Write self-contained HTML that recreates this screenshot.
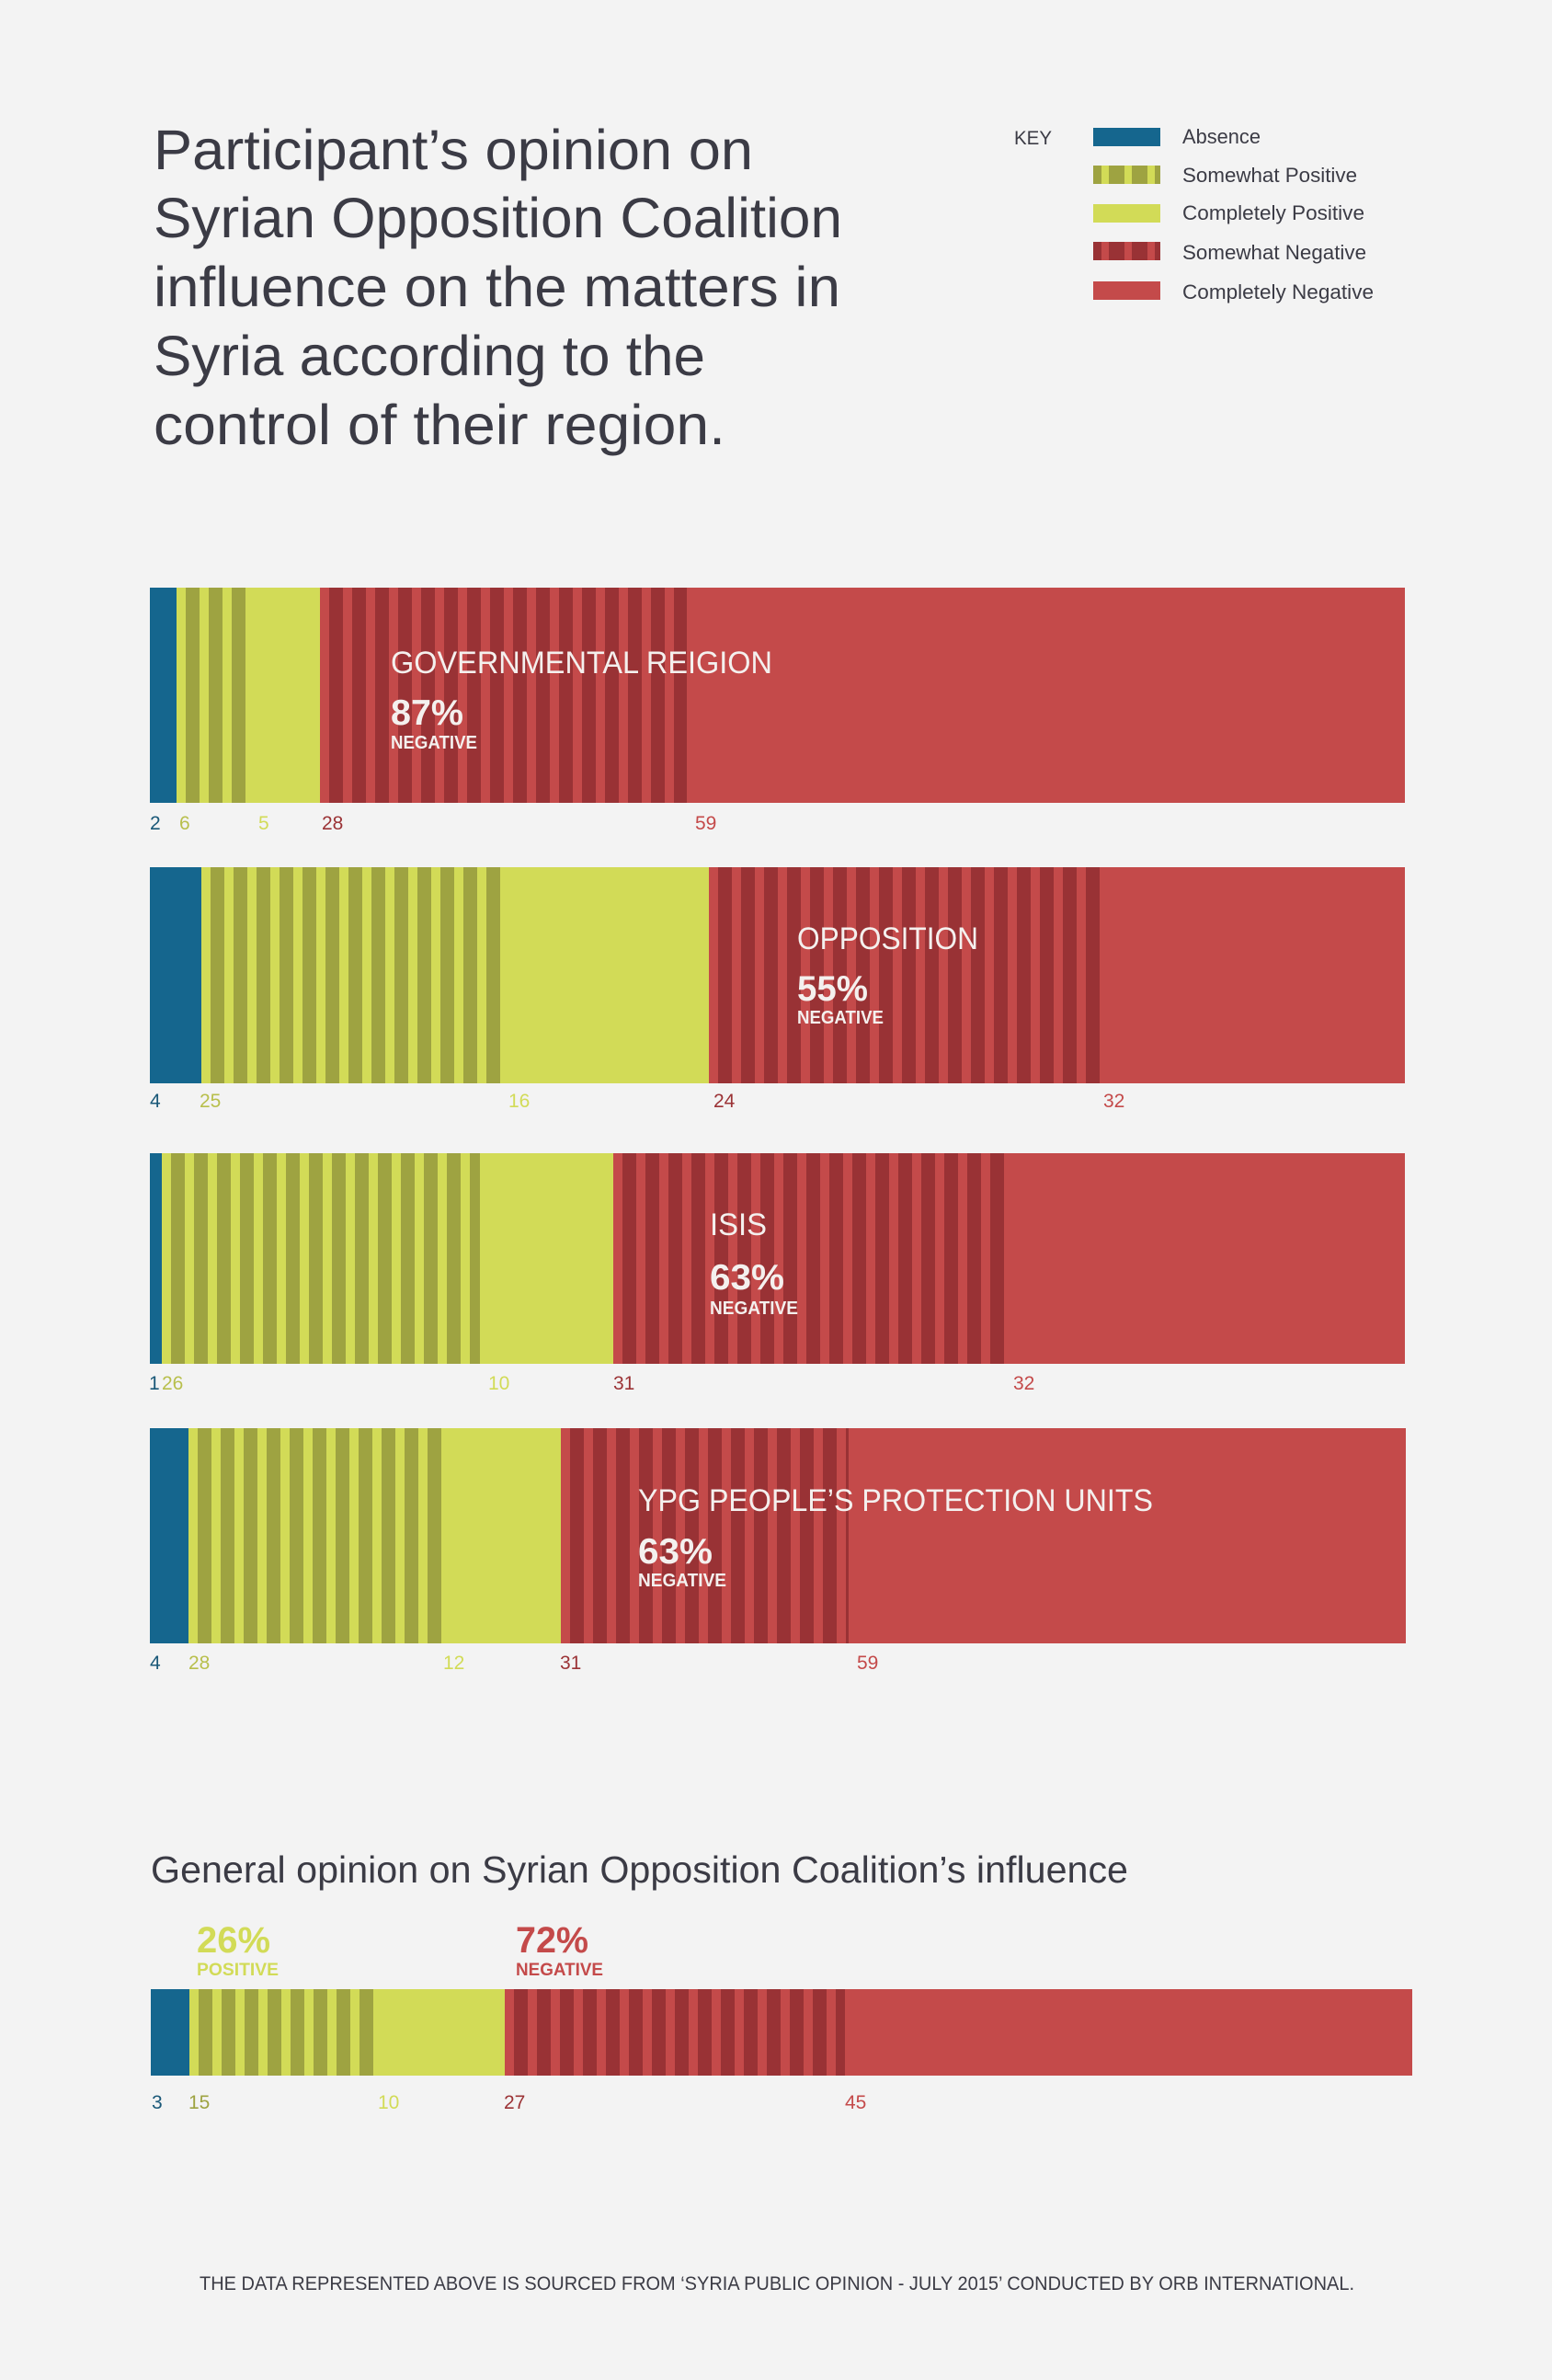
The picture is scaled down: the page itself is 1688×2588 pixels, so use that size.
<!DOCTYPE html>
<html><head><meta charset="utf-8"><style>
html,body{margin:0;padding:0;background:#f3f3f3;}
svg{display:block;}
text{font-family:"Liberation Sans",sans-serif;}
</style></head><body>
<svg width="1688" height="2588" viewBox="0 0 1688 2588" xmlns="http://www.w3.org/2000/svg">
<defs>
<pattern id="pg" patternUnits="userSpaceOnUse" width="25" height="10"><rect width="25" height="10" fill="#d2db57"/><rect x="10" width="15" height="10" fill="#9ea341"/></pattern>
<pattern id="pr" patternUnits="userSpaceOnUse" width="25" height="10"><rect width="25" height="10" fill="#c44a4a"/><rect x="10" width="15" height="10" fill="#993235"/></pattern>
<pattern id="lg" patternUnits="userSpaceOnUse" width="25" height="10"><rect width="25" height="10" fill="#d2db57"/><rect x="0" width="9" height="10" fill="#9ea341"/><rect x="17" width="8" height="10" fill="#9ea341"/></pattern>
<pattern id="lr" patternUnits="userSpaceOnUse" width="25" height="10"><rect width="25" height="10" fill="#c44a4a"/><rect x="0" width="9" height="10" fill="#993235"/><rect x="17" width="8" height="10" fill="#993235"/></pattern>
</defs>
<rect width="1688" height="2588" fill="#f3f3f3"/>

<!-- Title -->
<g fill="#3b3b45" font-size="61">
<text x="167" y="184" textLength="652" lengthAdjust="spacingAndGlyphs">Participant’s opinion on</text>
<text x="167" y="258" textLength="749" lengthAdjust="spacingAndGlyphs">Syrian Opposition Coalition</text>
<text x="167" y="333" textLength="747" lengthAdjust="spacingAndGlyphs">influence on the matters in</text>
<text x="167" y="408" textLength="600" lengthAdjust="spacingAndGlyphs">Syria according to the</text>
<text x="167" y="483" textLength="622" lengthAdjust="spacingAndGlyphs">control of their region.</text>
</g>

<!-- Legend -->
<g fill="#3b3b45" font-size="22">
<text x="1103" y="157" font-size="21" textLength="41" lengthAdjust="spacingAndGlyphs">KEY</text>
<rect x="1189" y="139" width="73" height="20" fill="#15668e"/>
<g transform="translate(1189,0)"><rect x="0" y="180" width="73" height="20" fill="url(#lg)"/></g>
<rect x="1189" y="222" width="73" height="20" fill="#d2db57"/>
<g transform="translate(1189,0)"><rect x="0" y="263" width="73" height="20" fill="url(#lr)"/></g>
<rect x="1189" y="306" width="73" height="20" fill="#c44a4a"/>
<text x="1286" y="156" textLength="85" lengthAdjust="spacingAndGlyphs">Absence</text>
<text x="1286" y="198" textLength="190" lengthAdjust="spacingAndGlyphs">Somewhat Positive</text>
<text x="1286" y="239" textLength="198" lengthAdjust="spacingAndGlyphs">Completely Positive</text>
<text x="1286" y="282" textLength="200" lengthAdjust="spacingAndGlyphs">Somewhat Negative</text>
<text x="1286" y="325" textLength="208" lengthAdjust="spacingAndGlyphs">Completely Negative</text>
</g>

<!-- Bar 1 -->
<g>
<rect x="163" y="639" width="29" height="234" fill="#15668e"/>
<g transform="translate(192,0)"><rect x="0" y="639" width="80" height="234" fill="url(#pg)"/></g>
<rect x="272" y="639" width="76" height="234" fill="#d2db57"/>
<g transform="translate(348,0)"><rect x="0" y="639" width="399" height="234" fill="url(#pr)"/></g>
<rect x="747" y="639" width="781" height="234" fill="#c44a4a"/>
<g fill="#f4f0ee">
<text x="425" y="732" font-size="34" textLength="415" lengthAdjust="spacingAndGlyphs">GOVERNMENTAL REIGION</text>
<text x="425" y="788" font-size="39" font-weight="bold" textLength="79" lengthAdjust="spacingAndGlyphs">87%</text>
<text x="425" y="814" font-size="20" font-weight="bold" textLength="94" lengthAdjust="spacingAndGlyphs">NEGATIVE</text>
</g>
<g font-size="21">
<text x="163" y="902" fill="#1a5878">2</text>
<text x="195" y="902" fill="#b8bf4c">6</text>
<text x="281" y="902" fill="#d2db57">5</text>
<text x="350" y="902" fill="#9b3336">28</text>
<text x="756" y="902" fill="#c44a4a">59</text>
</g>
</g>

<!-- Bar 2 -->
<g>
<rect x="163" y="943" width="56" height="235" fill="#15668e"/>
<g transform="translate(219,0)"><rect x="0" y="943" width="329" height="235" fill="url(#pg)"/></g>
<rect x="548" y="943" width="223" height="235" fill="#d2db57"/>
<g transform="translate(771,0)"><rect x="0" y="943" width="426" height="235" fill="url(#pr)"/></g>
<rect x="1197" y="943" width="331" height="235" fill="#c44a4a"/>
<g fill="#f4f0ee">
<text x="867" y="1032" font-size="34" textLength="197" lengthAdjust="spacingAndGlyphs">OPPOSITION</text>
<text x="867" y="1088" font-size="39" font-weight="bold" textLength="77" lengthAdjust="spacingAndGlyphs">55%</text>
<text x="867" y="1113" font-size="20" font-weight="bold" textLength="94" lengthAdjust="spacingAndGlyphs">NEGATIVE</text>
</g>
<g font-size="21">
<text x="163" y="1204" fill="#1a5878">4</text>
<text x="217" y="1204" fill="#b8bf4c">25</text>
<text x="553" y="1204" fill="#d2db57">16</text>
<text x="776" y="1204" fill="#9b3336">24</text>
<text x="1200" y="1204" fill="#c44a4a">32</text>
</g>
</g>

<!-- Bar 3 -->
<g>
<rect x="163" y="1254" width="13" height="229" fill="#15668e"/>
<g transform="translate(176,0)"><rect x="0" y="1254" width="346" height="229" fill="url(#pg)"/></g>
<rect x="522" y="1254" width="145" height="229" fill="#d2db57"/>
<g transform="translate(667,0)"><rect x="0" y="1254" width="430" height="229" fill="url(#pr)"/></g>
<rect x="1097" y="1254" width="431" height="229" fill="#c44a4a"/>
<g fill="#f4f0ee">
<text x="772" y="1343" font-size="34" textLength="62" lengthAdjust="spacingAndGlyphs">ISIS</text>
<text x="772" y="1402" font-size="39" font-weight="bold" textLength="81" lengthAdjust="spacingAndGlyphs">63%</text>
<text x="772" y="1429" font-size="20" font-weight="bold" textLength="96" lengthAdjust="spacingAndGlyphs">NEGATIVE</text>
</g>
<g font-size="21">
<text x="162" y="1511" fill="#1a5878">1</text>
<text x="176" y="1511" fill="#b8bf4c">26</text>
<text x="531" y="1511" fill="#d2db57">10</text>
<text x="667" y="1511" fill="#9b3336">31</text>
<text x="1102" y="1511" fill="#c44a4a">32</text>
</g>
</g>

<!-- Bar 4 -->
<g>
<rect x="163" y="1553" width="42" height="234" fill="#15668e"/>
<g transform="translate(205,0)"><rect x="0" y="1553" width="282" height="234" fill="url(#pg)"/></g>
<rect x="487" y="1553" width="123" height="234" fill="#d2db57"/>
<g transform="translate(610,0)"><rect x="0" y="1553" width="313" height="234" fill="url(#pr)"/></g>
<rect x="923" y="1553" width="606" height="234" fill="#c44a4a"/>
<g fill="#f4f0ee">
<text x="694" y="1643" font-size="34" textLength="560" lengthAdjust="spacingAndGlyphs">YPG PEOPLE’S PROTECTION UNITS</text>
<text x="694" y="1700" font-size="39" font-weight="bold" textLength="81" lengthAdjust="spacingAndGlyphs">63%</text>
<text x="694" y="1725" font-size="20" font-weight="bold" textLength="96" lengthAdjust="spacingAndGlyphs">NEGATIVE</text>
</g>
<g font-size="21">
<text x="163" y="1815" fill="#1a5878">4</text>
<text x="205" y="1815" fill="#b8bf4c">28</text>
<text x="482" y="1815" fill="#d2db57">12</text>
<text x="609" y="1815" fill="#9b3336">31</text>
<text x="932" y="1815" fill="#c44a4a">59</text>
</g>
</g>

<!-- General -->
<text x="164" y="2047" font-size="41" fill="#3b3b45" textLength="1063" lengthAdjust="spacingAndGlyphs">General opinion on Syrian Opposition Coalition’s influence</text>
<text x="214" y="2123" font-size="40" font-weight="bold" fill="#d2db57" textLength="80" lengthAdjust="spacingAndGlyphs">26%</text>
<text x="214" y="2148" font-size="19" font-weight="bold" fill="#d2db57" textLength="89" lengthAdjust="spacingAndGlyphs">POSITIVE</text>
<text x="561" y="2123" font-size="40" font-weight="bold" fill="#c44a4a" textLength="79" lengthAdjust="spacingAndGlyphs">72%</text>
<text x="561" y="2148" font-size="19" font-weight="bold" fill="#c44a4a" textLength="95" lengthAdjust="spacingAndGlyphs">NEGATIVE</text>
<g>
<rect x="164" y="2163" width="42" height="94" fill="#15668e"/>
<g transform="translate(206,0)"><rect x="0" y="2163" width="206" height="94" fill="url(#pg)"/></g>
<rect x="412" y="2163" width="137" height="94" fill="#d2db57"/>
<g transform="translate(549,0)"><rect x="0" y="2163" width="370" height="94" fill="url(#pr)"/></g>
<rect x="919" y="2163" width="617" height="94" fill="#c44a4a"/>
<g font-size="21">
<text x="165" y="2293" fill="#1a5878">3</text>
<text x="205" y="2293" fill="#9ea341">15</text>
<text x="411" y="2293" fill="#d2db57">10</text>
<text x="548" y="2293" fill="#9b3336">27</text>
<text x="919" y="2293" fill="#c44a4a">45</text>
</g>
</g>

<text x="217" y="2490" font-size="21" fill="#3b3b45" textLength="1256" lengthAdjust="spacingAndGlyphs">THE DATA REPRESENTED ABOVE IS SOURCED FROM ‘SYRIA PUBLIC OPINION - JULY 2015’ CONDUCTED BY ORB INTERNATIONAL.</text>
</svg>
</body></html>
